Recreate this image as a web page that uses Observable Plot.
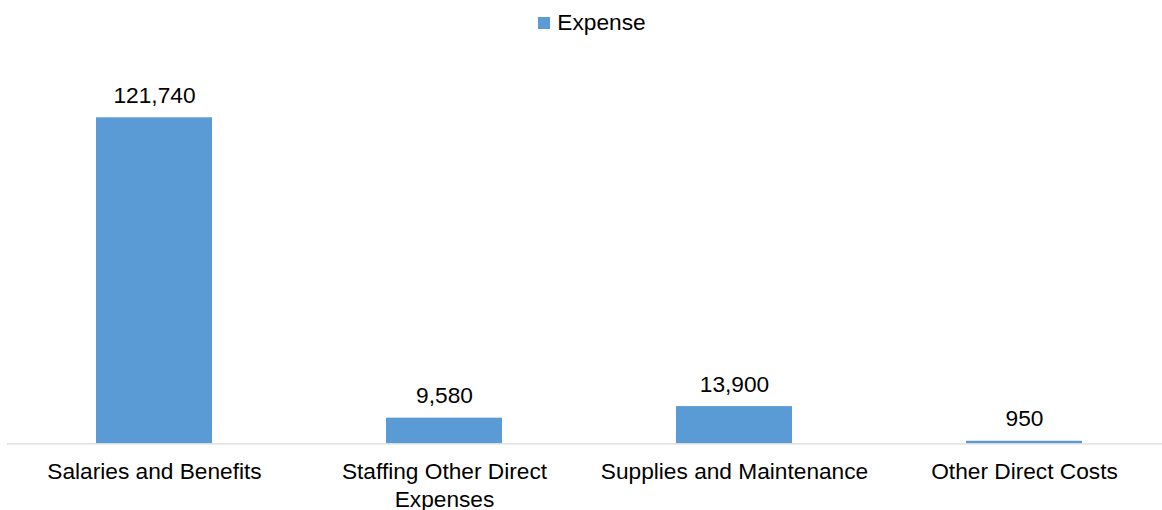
<!DOCTYPE html>
<html>
<head>
<meta charset="utf-8">
<script src="https://cdn.jsdelivr.net/npm/d3@7"></script>
<script src="https://cdn.jsdelivr.net/npm/@observablehq/plot@0.6"></script>
<style>
  html, body { margin: 0; padding: 0; background: #fff; }
  body { width: 1162px; height: 510px; overflow: hidden; font-family: "Liberation Sans", Arial, sans-serif; }
  #legend { height: 44px; display: flex; align-items: center; justify-content: center; padding-left: 22px; box-sizing: border-box; font-size: 22.7px; color: #000; }
  #legend .sw { width: 12px; height: 12px; background: #5B9BD5; margin-right: 7px; margin-top: 2px; }
  svg { display: block; }
</style>
</head>
<body>
<div id="legend"><span class="sw"></span><span>Expense</span></div>
<div id="chart"></div>
<script>
const categories = ["Salaries and Benefits", "Staffing Other Direct Expenses", "Supplies and Maintenance", "Other Direct Costs"];
const tickLabels = ["Salaries and Benefits", "Staffing Other Direct\nExpenses", "Supplies and Maintenance", "Other Direct Costs"];
const values = [121740, 9580, 13900, 950];
const seriesName = "Expense";

const data = categories.map((c, i) => ({category: c, value: values[i], label: tickLabels[i]}));
const fmt = d3.format(",");
const font = "Liberation Sans, Arial, sans-serif";

const chart = Plot.plot({
  width: 1162,
  height: 466,
  marginLeft: 7,
  marginRight: 0,
  marginTop: 24.4,
  marginBottom: 66.7,
  style: {fontFamily: font, background: "#fff", overflow: "visible"},
  x: {domain: categories, range: [7.4, 1170.7], paddingInner: 0.6, paddingOuter: 0.3, axis: null},
  y: {domain: [0, 140000], axis: null},
  marks: [
    Plot.barY(data, {x: "category", y: "value", fill: "#5B9BD5"}),
    Plot.ruleY([0], {stroke: "#D9D9D9", strokeWidth: 1.3}),
    Plot.text(data, {x: "category", y: "value", text: d => fmt(d.value), lineAnchor: "bottom", dy: -15, fontSize: 22.7, fill: "#000"}),
    Plot.text(data, {x: "category", frameAnchor: "bottom", text: "label", lineAnchor: "top", dy: 15.6, lineHeight: 1.233, fontSize: 22.7, fill: "#000"})
  ]
});
document.getElementById("chart").appendChild(chart);
</script>
</body>
</html>
